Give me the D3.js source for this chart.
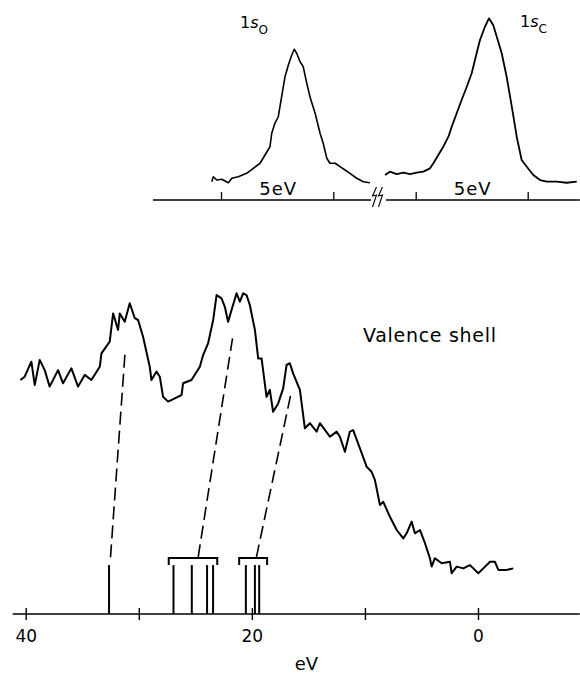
<!DOCTYPE html>
<html>
<head>
<meta charset="utf-8">
<script src="https://cdn.jsdelivr.net/npm/d3@7"></script>
<style>
  body { margin: 0; background: #fff; }
  svg { display: block; }
</style>
</head>
<body>
<div id="chart"></div>
<script>
// ---- data ----

// valence shell spectrum (binding energy in eV, counts in arbitrary units)
var valenceEnergy = [40.47, 40.09, 39.50, 39.20, 38.76, 38.32, 37.88, 37.14, 36.70, 35.96, 35.37, 34.78, 34.19, 33.45, 33.30,
  32.57, 32.27, 31.83, 31.68, 31.24, 30.80, 30.35, 30.06, 29.62, 29.03, 28.88, 28.43, 28.14, 27.85, 27.41, 26.81, 26.22,
  26.08, 25.34, 24.60, 24.31, 23.87, 23.42, 23.12, 22.68, 22.39, 22.10, 21.80, 21.35, 21.06, 20.77, 20.47, 20.18, 19.73,
  19.44, 19.14, 18.70, 18.41, 18.12, 17.67, 17.23, 16.93, 16.64, 16.35, 15.75, 15.31, 14.87, 14.27, 13.98, 13.10, 12.50,
  12.21, 11.77, 11.33, 11.04, 10.44, 9.85, 9.41, 9.12, 8.67, 8.38, 7.79, 7.19, 6.61, 6.31, 5.87, 5.58, 5.13, 4.69, 4.25,
  4.10, 3.81, 3.21, 2.48, 2.33, 1.88, 1.30, 0.71, -0.03, -0.47, -1.06, -1.50, -1.80, -2.54, -3.12];
var valenceCounts = [78, 79.1, 84.1, 76.3, 84.7, 81.3, 75.8, 81.3, 76.9, 81.9, 75.8, 79.7, 78, 82.4, 86.9,
  90.8, 100.2, 94.7, 100.2, 97.4, 103.6, 98.6, 98, 92.4, 82.4, 78, 80.8, 79.1, 72.4, 70.8, 71.9, 73,
  76.9, 78, 82.4, 86.3, 90.2, 98, 106.3, 105.2, 102.4, 97.4, 101.3, 106.9, 104.1, 106.9, 106.3, 103, 94.7,
  85.2, 85.2, 72.4, 74.7, 67.4, 70.2, 75.2, 83, 83.6, 80.2, 74.7, 61.9, 63.6, 60.8, 63.6, 59.1, 60.8,
  59.1, 54.1, 60.8, 61.3, 55.2, 49.1, 47.4, 44.7, 36.3, 37.4, 32.4, 28, 25.2, 26.9, 30.8, 26.9, 28, 23.6, 18.6,
  15.8, 18.6, 16.9, 17.4, 13.6, 15.8, 15.2, 16.3, 13.6, 15.2, 17.4, 17.4, 14.7, 14.7, 15.2];

// calculated ionization energies (eV), grouped as in the bar diagram
var singleLines = [32.63];
var groupA = [26.93, 25.31, 23.96, 23.43];
var groupB = [20.53, 19.73, 19.35];
// bracket spans over the groups
var brackets = [[27.35, 23.06], [21.12, 18.65]];
// dashed assignment lines: energy at bar, energy at peak, counts at peak
var assignEnergyLow = [32.50, 24.75, 19.60];
var assignEnergyHigh = [31.21, 21.71, 16.55];
var assignCountsHigh = [87.4, 91.9, 73.3];

var valenceTicks = [40, 30, 20, 10, 0];
var valenceTickLabels = ["40", "", "20", "", "0"];

// core level peaks (relative energy in eV, counts)
var o1sEnergy = [5.41, 5.34, 5.19, 4.97, 4.67, 4.52, 4.23, 3.86, 3.56, 3.26, 3.04, 2.82, 2.74, 2.60, 2.45, 2.30, 2.15,
  2.00, 1.85, 1.74, 1.63, 1.48, 1.34, 1.18, 1.04, 0.81, 0.59, 0.45, 0.29, 0.15, -0.08, -0.30, -0.52, -0.74, -1.04, -1.34, -1.63];
var o1sCounts = [12.2, 15.5, 13.3, 13.8, 11.5, 14.5, 15.5, 17.8, 21.1, 24.5, 30, 35.5, 44.5, 51.1, 55.5, 68.9, 82.2,
  90, 96.7, 100.5, 97.8, 92.2, 88.9, 77.8, 68.9, 57.8, 44.5, 37.8, 27.8, 24.5, 24.5, 22.2, 20, 17.8, 14.5, 12.2, 11.5];
var c1sEnergy = [6.37, 6.15, 5.85, 5.55, 5.25, 4.96, 4.66, 4.36, 4.21, 3.99, 3.77, 3.54, 3.39, 3.17, 2.95, 2.72, 2.50,
  2.28, 2.13, 1.91, 1.73, 1.54, 1.38, 1.16, 0.94, 0.71, 0.49, 0.27, 0.04, -0.25, -0.55, -0.85, -1.29, -1.74, -2.19];
var c1sCounts = [16.7, 18.9, 17.3, 18.2, 17.3, 18.2, 18.9, 21.1, 24.5, 30, 35.5, 42.2, 48.9, 57.8, 66.7, 75.5, 84.5,
  97.8, 106.7, 115.5, 121.1, 116.7, 108.9, 97.8, 82.2, 62.2, 42.2, 26.7, 22.2, 16.7, 13.3, 12.2, 12.2, 11.5, 12.2];
var coreTicks = [5, 0];

// ---- layout ----
var svgWidth = 580;
var svgHeight = 673;
var font = "'DejaVu Sans', sans-serif";

var svg = d3.select("#chart")
  .append("svg")
  .attr("width", svgWidth)
  .attr("height", svgHeight);

svg.append("rect").attr("width", svgWidth).attr("height", svgHeight).attr("fill", "#fff");

// ---- valence shell panel ----
var x = d3.scaleLinear().domain([40, 0]).range([25.7, 478]);
var y = d3.scaleLinear().domain([0, 100]).range([614, 314]);
var baseY = y(0);

var bottomPanel = svg.append("g");

// axis line
bottomPanel.append("line")
  .attr("x1", x(41.15)).attr("x2", x(-9))
  .attr("y1", baseY).attr("y2", baseY)
  .attr("stroke", "#000").attr("stroke-width", 1.6);

var xAxis = bottomPanel.append("g")
  .attr("transform", `translate(0, ${baseY})`)
  .call(d3.axisBottom(x).tickValues(valenceTicks)
    .tickFormat((d, i) => valenceTickLabels[i]).tickSize(6));
xAxis.select(".domain").remove();
xAxis.selectAll(".tick line").attr("y1", -6).attr("y2", 6)
  .attr("stroke", "#000").attr("stroke-width", 1.4);
xAxis.selectAll(".tick text")
  .attr("y", 28).attr("dy", 0)
  .attr("font-family", font).attr("font-size", 17).attr("fill", "#000");

bottomPanel.append("text")
  .attr("x", 306.5).attr("y", 670)
  .attr("text-anchor", "middle")
  .attr("font-family", font).attr("font-size", 18)
  .text("eV");

// spectrum trace
var valenceLine = d3.line()
  .x(d => x(d[0]))
  .y(d => y(d[1]));

bottomPanel.append("path")
  .datum(d3.zip(valenceEnergy, valenceCounts))
  .attr("d", valenceLine)
  .attr("fill", "none")
  .attr("stroke", "#000")
  .attr("stroke-width", 2)
  .attr("stroke-linejoin", "round");

bottomPanel.append("text")
  .attr("x", 363).attr("y", 341.7)
  .attr("font-family", font).attr("font-size", 19)
  .attr("letter-spacing", 0.7)
  .text("Valence shell");

// bar diagram of ionization energies
var allLines = singleLines.concat(groupA, groupB);
bottomPanel.selectAll(".stick")
  .data(allLines)
  .enter()
  .append("line")
  .attr("class", "stick")
  .attr("x1", d => x(d)).attr("x2", d => x(d))
  .attr("y1", y(16.3)).attr("y2", baseY)
  .attr("stroke", "#000").attr("stroke-width", 2);

bottomPanel.selectAll(".bracket")
  .data(brackets)
  .enter()
  .append("path")
  .attr("class", "bracket")
  .attr("d", d => `M${x(d[0])},${y(16.3)}V${y(18.7)}H${x(d[1])}V${y(16.3)}`)
  .attr("fill", "none")
  .attr("stroke", "#000").attr("stroke-width", 2);

// dashed lines linking bars to peaks
bottomPanel.selectAll(".assign")
  .data(d3.range(assignEnergyLow.length))
  .enter()
  .append("line")
  .attr("class", "assign")
  .attr("x1", i => x(assignEnergyLow[i])).attr("y1", y(18.9))
  .attr("x2", i => x(assignEnergyHigh[i])).attr("y2", i => y(assignCountsHigh[i]))
  .attr("stroke", "#000").attr("stroke-width", 1.6)
  .attr("stroke-dasharray", "13,6");

// ---- core level panel ----
var oX = d3.scaleLinear().domain([5, 0]).range([221, 333.3]);
var cX = d3.scaleLinear().domain([5, 0]).range([415.7, 527.7]);
var yTop = d3.scaleLinear().domain([0, 100]).range([200, 50]);
var topBase = yTop(0);

var topPanel = svg.append("g");

// broken axis pieces
topPanel.append("line")
  .attr("x1", oX(8.03)).attr("x2", oX(-1.68))
  .attr("y1", topBase).attr("y2", topBase)
  .attr("stroke", "#000").attr("stroke-width", 1.5);
topPanel.append("line")
  .attr("x1", cX(6.33)).attr("x2", cX(-2.33))
  .attr("y1", topBase).attr("y2", topBase)
  .attr("stroke", "#000").attr("stroke-width", 1.5);

[oX, cX].forEach(function(scale) {
  var ax = topPanel.append("g")
    .attr("transform", `translate(0, ${topBase})`)
    .call(d3.axisTop(scale).tickValues(coreTicks).tickFormat("").tickSize(8));
  ax.select(".domain").remove();
  ax.selectAll(".tick line").attr("stroke", "#000").attr("stroke-width", 1.3);

  topPanel.append("text")
    .attr("x", (scale(5) + scale(0)) / 2 + 1).attr("y", 195)
    .attr("text-anchor", "middle")
    .attr("font-family", font).attr("font-size", 18)
    .attr("letter-spacing", 1)
    .text("5eV");
});

// axis break marks
[373.5, 379.5].forEach(function(bx) {
  topPanel.append("path")
    .attr("d", `M${bx + 3},187L${bx - 1},196L${bx + 3},195L${bx - 1},207`)
    .attr("fill", "none")
    .attr("stroke", "#000").attr("stroke-width", 1.1);
});

var oLine = d3.line().x(d => oX(d[0])).y(d => yTop(d[1]));
var cLine = d3.line().x(d => cX(d[0])).y(d => yTop(d[1]));

topPanel.append("path")
  .datum(d3.zip(o1sEnergy, o1sCounts))
  .attr("d", oLine)
  .attr("fill", "none").attr("stroke", "#000")
  .attr("stroke-width", 1.6).attr("stroke-linejoin", "round");

topPanel.append("path")
  .datum(d3.zip(c1sEnergy, c1sCounts))
  .attr("d", cLine)
  .attr("fill", "none").attr("stroke", "#000")
  .attr("stroke-width", 1.8).attr("stroke-linejoin", "round");

// peak labels 1s_O and 1s_C
function coreLabel(px, py, sub) {
  var t = topPanel.append("text")
    .attr("x", px).attr("y", py)
    .attr("font-family", font).attr("font-size", 16);
  t.append("tspan").text("1");
  t.append("tspan").attr("font-style", "italic").text("s");
  t.append("tspan").attr("dy", 6).attr("font-size", 12).text(sub);
}
coreLabel(240, 28.3, "O");
coreLabel(520, 26.7, "C");
</script>
</body>
</html>
